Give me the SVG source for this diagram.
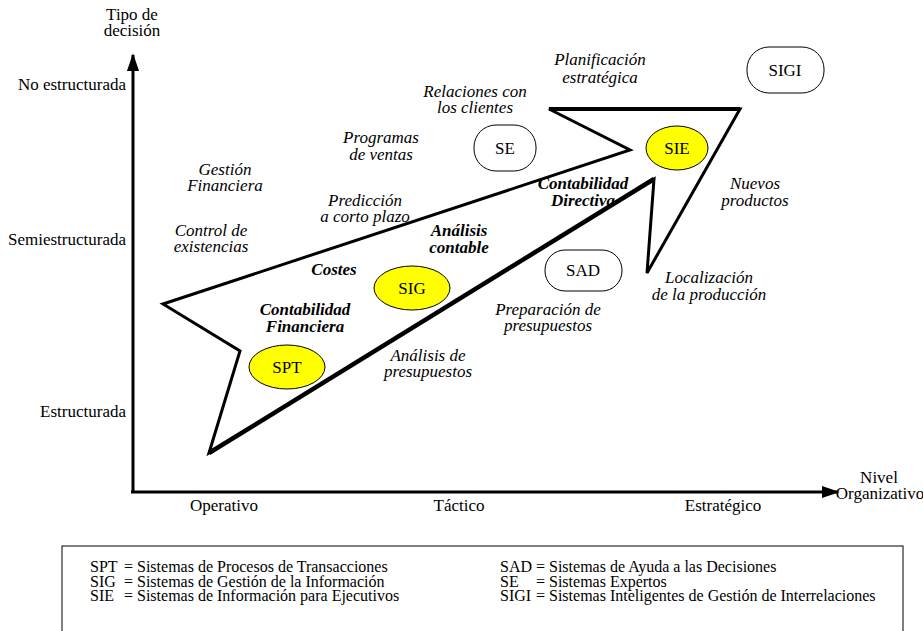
<svg xmlns="http://www.w3.org/2000/svg" width="923" height="631" viewBox="0 0 923 631" font-family="'Liberation Serif','Times New Roman',serif">
<style>
text{font-family:"Liberation Serif","Times New Roman",serif;font-size:17px;fill:#000}
.m{text-anchor:middle}
.e{text-anchor:end}
.i{font-style:italic}
.b{font-style:italic;font-weight:bold}
.lg{font-size:16px}
.sys{fill:#ffff00;stroke:#000;stroke-width:1}
.box{fill:#fff;stroke:#000;stroke-width:1}
.ax{stroke:#000;stroke-width:3;fill:none}
</style>
<defs>
<marker id="ah" viewBox="0 0 10 10" refX="9" refY="5" markerWidth="6" markerHeight="6" markerUnits="strokeWidth" orient="auto">
<path d="M0,1.6 L10,5 L0,8.4 z" fill="#000"/>
</marker>
</defs>
<rect width="923" height="631" fill="#fff"/>

<g id="axes">
<line class="ax" x1="133" y1="492" x2="133" y2="55" marker-end="url(#ah)"/>
<line class="ax" x1="131" y1="492" x2="838" y2="492" marker-end="url(#ah)"/>
<text class="m" x="132" y="20">Tipo de<tspan x="132" dy="16">decisión</tspan></text>
<text class="e" x="126" y="90">No estructurada</text>
<text class="e" x="126" y="245">Semiestructurada</text>
<text class="e" x="126" y="417">Estructurada</text>
<text class="m" x="224" y="511">Operativo</text>
<text class="m" x="459" y="511">Táctico</text>
<text class="m" x="723" y="511">Estratégico</text>
<text class="m" x="879" y="483">Nivel<tspan x="880" dy="16">Organizativo</tspan></text>
</g>

<g id="arrow-shape">
<polygon points="163,304 630,150 549,109 740,109 647,273 654,179 209,453 240,351" fill="none" stroke="#000" stroke-width="3" stroke-linejoin="miter"/>
<line x1="654" y1="179" x2="209" y2="453" stroke="#000" stroke-width="4.5"/>
<line x1="549" y1="109" x2="740" y2="109" stroke="#000" stroke-width="4"/>
</g>

<g id="node-SPT"><ellipse class="sys" cx="287" cy="367" rx="38" ry="22"/><text class="m" x="287" y="373">SPT</text></g>
<g id="node-SIG"><ellipse class="sys" cx="412" cy="288" rx="38" ry="22"/><text class="m" x="412" y="294">SIG</text></g>
<g id="node-SIE"><ellipse class="sys" cx="677" cy="148" rx="31" ry="22"/><text class="m" x="677" y="154">SIE</text></g>
<g id="node-SE"><rect class="box" x="474" y="125" width="62" height="46" rx="22" ry="22"/><text class="m" x="505" y="154">SE</text></g>
<g id="node-SAD"><rect class="box" x="545" y="250" width="77" height="41" rx="20" ry="20"/><text class="m" x="583" y="276">SAD</text></g>
<g id="node-SIGI"><rect class="box" x="747" y="47" width="77" height="46" rx="22" ry="22"/><text class="m" x="785" y="76">SIGI</text></g>

<g id="labels">
<text class="m i" x="600" y="65">Planificación<tspan x="600" dy="18">estratégica</tspan></text>
<text class="m i" x="475" y="97">Relaciones con<tspan x="475" dy="16">los clientes</tspan></text>
<text class="m i" x="381" y="143">Programas<tspan x="381" dy="17">de ventas</tspan></text>
<text class="m i" x="225" y="175">Gestión<tspan x="225" dy="16">Financiera</tspan></text>
<text class="m i" x="365" y="206">Predicción<tspan x="365" dy="16">a corto plazo</tspan></text>
<text class="m i" x="211" y="236">Control de<tspan x="211" dy="16">existencias</tspan></text>
<text class="m i" x="428" y="361">Análisis de<tspan x="428" dy="16">presupuestos</tspan></text>
<text class="m i" x="548" y="315">Preparación de<tspan x="548" dy="16">presupuestos</tspan></text>
<text class="m i" x="755" y="189">Nuevos<tspan x="755" dy="17">productos</tspan></text>
<text class="m i" x="709" y="283">Localización<tspan x="709" dy="17">de la producción</tspan></text>
<text class="m b" x="583" y="189">Contabilidad<tspan x="583" dy="17">Directiva</tspan></text>
<text class="m b" x="459" y="236">Análisis<tspan x="459" dy="17">contable</tspan></text>
<text class="m b" x="334" y="275">Costes</text>
<text class="m b" x="305" y="315">Contabilidad<tspan x="305" dy="17">Financiera</tspan></text>
</g>

<g id="legend">
<rect x="62" y="546" width="841" height="100" fill="none" stroke="#000" stroke-width="1"/>
<text class="lg" x="90" y="572">SPT<tspan x="124">= Sistemas de Procesos de Transacciones</tspan><tspan x="90" dy="14.5">SIG</tspan><tspan x="124">= Sistemas de Gestión de la Información</tspan><tspan x="90" dy="14.5">SIE</tspan><tspan x="124">= Sistemas de Información para Ejecutivos</tspan></text>
<text class="lg" x="500" y="572">SAD<tspan x="536">= Sistemas de Ayuda a las Decisiones</tspan><tspan x="500" dy="14.5">SE</tspan><tspan x="536">= Sistemas Expertos</tspan><tspan x="500" dy="14.5">SIGI</tspan><tspan x="536">= Sistemas Inteligentes de Gestión de Interrelaciones</tspan></text>
</g>
</svg>
